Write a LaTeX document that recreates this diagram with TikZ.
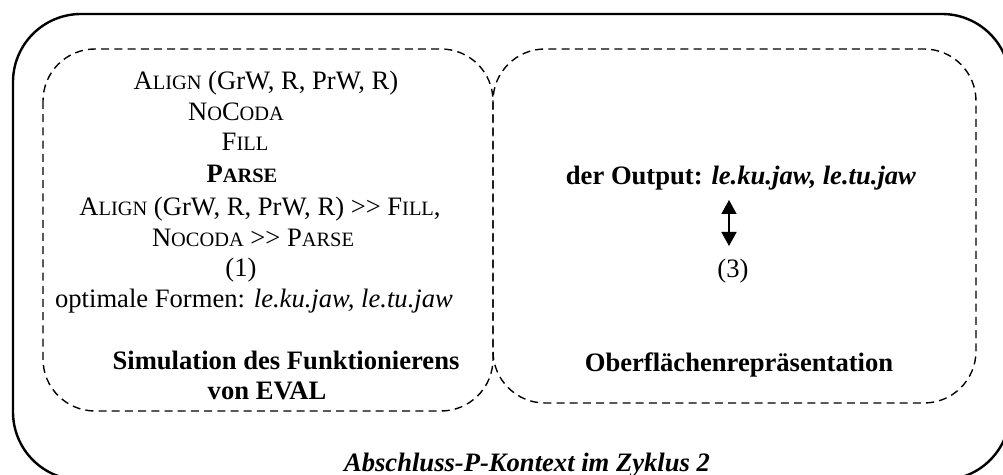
\documentclass[tikz,border=0pt]{standalone}
\usepackage{fontspec}
\setmainfont{Liberation Serif}
\usetikzlibrary{arrows.meta}
\newcommand{\kap}[2]{#1{\fontsize{10.2}{11}\selectfont #2}}
\tikzset{
  txt/.style={anchor=base, inner sep=0pt, font=\fontsize{13.3}{16}\selectfont},
  rahmen/.style={line width=1.2pt, rounded corners=34pt},
  teilbox/.style={dash pattern=on 4pt off 2.6pt, line width=0.7pt, rounded corners=26pt},
  dblarrow/.style={{Triangle[width=7.5pt,length=7pt]}-{Triangle[width=7.5pt,length=7pt]}, line width=0.8pt}
}
\begin{document}
\begin{tikzpicture}[x=0.5pt, y=-0.5pt]
    % Zyklus 2 context with the two sub boxes
    \useasboundingbox (0,0) rectangle (1003,475);
    \clip (0,0) rectangle (1003,475);
    \draw[rahmen] (13,14) rectangle (1010,480);
    \draw[teilbox] (43,49) rectangle (493,411);
    \draw[teilbox] (493,49) rectangle (976,403);

    % left box: EVAL
    \node[txt] (align) at (266,90) {\kap{A}{LIGN} (GrW, R, PrW, R)};
    \node[txt] (nocoda) at (236,121) {\kap{N}{O}\kap{C}{ODA}};
    \node[txt] (fill) at (245,151) {\kap{F}{ILL}};
    \node[txt] (parse) at (242,183) {\textbf{\kap{P}{ARSE}}};
    \node[txt] (rank1) at (260,216) {\kap{A}{LIGN} (GrW, R, PrW, R) >{}> \kap{F}{ILL},};
    \node[txt] (rank2) at (253,247) {\kap{N}{OCODA} >{}> \kap{P}{ARSE}};
    \node[txt] (one) at (241,277) {(1)};
    \node[txt] (optimal) at (254,308) {optimale Formen: \textit{le.ku.jaw, le.tu.jaw}};
    \node[txt] (sim) at (286,370) {\textbf{Simulation des Funktionierens}};
    \node[txt] (eval) at (267,400) {\textbf{von EVAL}};

    % right box: surface
    \node[txt] (output) at (741,185) {\textbf{der Output: \textit{le.ku.jaw, le.tu.jaw}}};
    \coordinate (tipup) at (729,200);
    \coordinate (tipdown) at (729,246);
    \node[txt] (three) at (733,278) {(3)};
    \node[txt] (surface) at (739,372) {\textbf{Oberflächenrepräsentation}};

    \draw[dblarrow] (tipup) -- (tipdown);

    \node[txt] (cycle) at (527,472) {\textbf{\textit{Abschluss-P-Kontext im Zyklus 2}}};
\end{tikzpicture}
\end{document}
